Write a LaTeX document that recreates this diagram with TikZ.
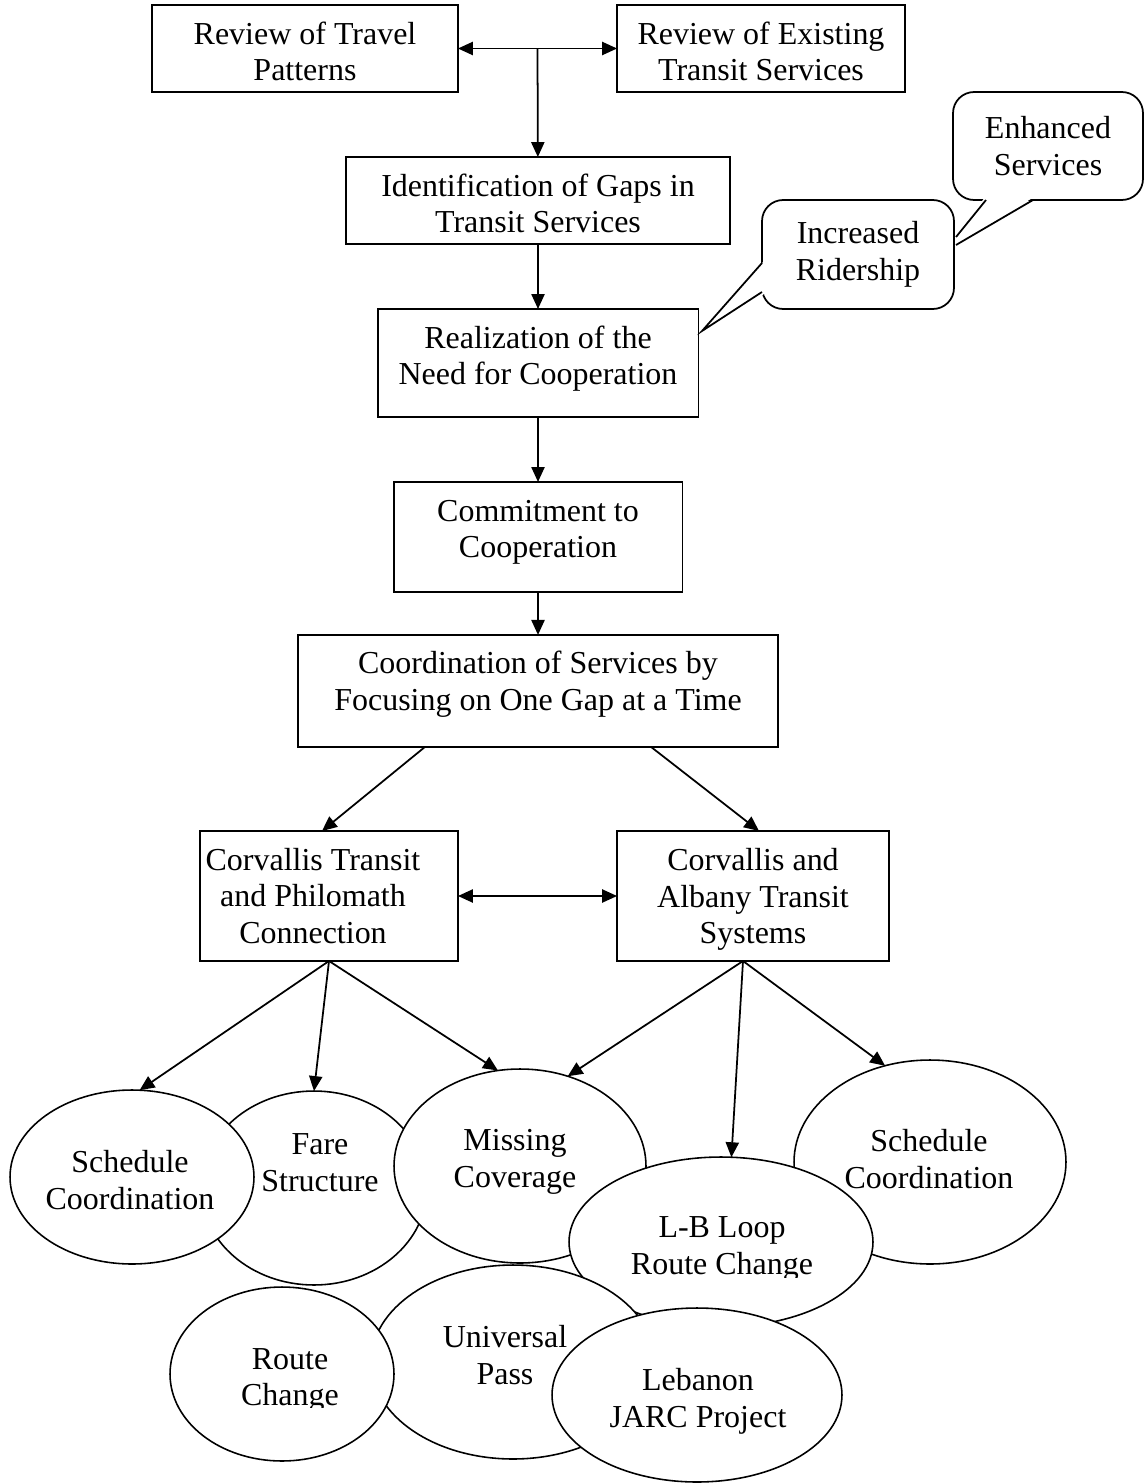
\documentclass[tikz,border=0pt]{standalone}
\usepackage{fontspec}
\setmainfont{Liberation Serif}
\usetikzlibrary{positioning,arrows.meta,calc,shapes.geometric}

\begin{document}
\begin{tikzpicture}[x=0.02cm,y=-0.02cm,>={Triangle[length=8.5pt,width=7.5pt]},
   node distance=1.3cm,
   every node/.style={font=\fontsize{18.2}{21}\selectfont,align=center,inner sep=0pt,outer sep=0pt},
   box/.style={draw,line width=1.1pt,fill=white,text height=43.2pt},
   oval/.style={draw,ellipse,line width=0.9pt,fill=white},
   bubble/.style={draw,line width=1pt,rounded corners=12pt,fill=white},
   link/.style={line width=1pt}]
  \useasboundingbox (0,0) rectangle (1144,1483);

  % top row
  \node[box,minimum width=6.12cm,minimum height=1.74cm,text depth=6.3pt] (travel) at (305,48.5) {Review of Travel\\Patterns};
  \node[box,minimum width=5.76cm,minimum height=1.74cm,text depth=6.3pt] (exist) at (761,48.5) {Review of Existing\\Transit Services};
  \coordinate (split) at ($(travel.east)!0.5!(exist.west)$);

  % main column
  \node[box,minimum width=7.68cm,minimum height=1.74cm,text depth=6.3pt] (gaps) at (538,200.5) {Identification of Gaps in\\Transit Services};
  \node[box,minimum width=6.42cm,minimum height=2.16cm,text depth=18.2pt] (need) [below=of gaps] {Realization of the\\Need for Cooperation};
  \node[box,minimum width=5.78cm,minimum height=2.2cm,text depth=19.3pt] (commit) [below=of need] {Commitment to\\Cooperation};
  \node[box,minimum width=9.62cm,minimum height=2.24cm,text depth=20.5pt] (focus) [below=0.86cm of commit] {Coordination of Services by\\Focusing on One Gap at a Time};

  % the two systems
  \node[box,minimum width=5.16cm,minimum height=2.6cm] (philo) at (329,896) {};
  \node (philo-t) at (313,896) {Corvallis Transit\\and Philomath\\Connection};
  \node[box,minimum width=5.44cm,minimum height=2.6cm,text height=64.3pt,text depth=9.7pt] (albany) at (753,896) {Corvallis and\\Albany Transit\\Systems};

  % callouts
  \node[bubble,minimum width=3.8cm,minimum height=2.16cm] (enh) at (1048,146) {Enhanced\\Services};
  \fill[white] (985,197) -- (956,237) -- (956,245) -- (1034,197) -- cycle;
  \draw[link] (986,200) -- (956,237) (956,245) -- (1033,200);
  \node[bubble,minimum width=3.84cm,minimum height=2.18cm] (rider) at (858,254.5) {Increased\\Ridership};
  \fill[white] (764,261) -- (702,331) -- (764,294) -- cycle;
  \draw[link] (762,263) -- (702,331) -- (762,292);

  % outcomes
  \node[oval,minimum width=4.52cm,minimum height=3.88cm] (fare) at (314,1188) {};
  \node (fare-t) at (320,1163) {Fare\\Structure};
  \node[oval,minimum width=4.88cm,minimum height=3.48cm] (sched1) at (132,1177) {};
  \node (sched1-t) at (130,1180) {Schedule\\Coordination};
  \node[oval,minimum width=5.04cm,minimum height=3.88cm] (missing) at (520,1166) {};
  \node (missing-t) at (515,1162) {Missing\\Coverage};
  \node[oval,minimum width=5.44cm,minimum height=4.08cm] (sched2) at (930,1162) {};
  \node (sched2-t) at (929,1159) {Schedule\\Coordination};
  \node[oval,minimum width=6.08cm,minimum height=3.4cm] (lbloop) at (721,1242) {};
  \begin{scope}
    \clip (600,1200) rectangle (850,1277);
    \node (lbloop-t) at (722,1249) {L-B Loop\\Route Change};
  \end{scope}
  \node[oval,minimum width=5.68cm,minimum height=3.88cm] (univ) at (513,1362) {};
  \node (univ-t) at (505,1355) {Universal\\Pass};
  \node[oval,minimum width=4.48cm,minimum height=3.48cm] (route) at (282,1374) {};
  \begin{scope}
    \clip (200,1320) rectangle (380,1407);
    \node (route-t) at (290,1380.5) {Route\\Change};
  \end{scope}
  \node[oval,minimum width=5.8cm,minimum height=3.48cm] (leb) at (697,1395) {};
  \node (leb-t) at (698,1401) {Lebanon\\JARC Project};

  % connectors
  \coordinate (focus-l) at ($(focus.south)+(-113,0)$);
  \coordinate (focus-r) at ($(focus.south)+(113,0)$);
  \coordinate (philo-in) at ($(philo.north)+(-7,0)$);
  \coordinate (albany-in) at ($(albany.north)+(6,0)$);
  \coordinate (albany-out) at ($(albany.south)+(-10,0)$);
  \path[->,link]
   (travel) edge[<->] (exist)
   (split) edge (gaps)
   (gaps) edge (need)
   (need) edge (commit)
   (commit) edge (focus)
   (focus-l) edge (philo-in)
   (focus-r) edge (albany-in)
   (philo) edge[<->] (albany)
   (philo.south) edge (sched1.85) edge (fare.north) edge (missing.103)
   (albany-out) edge (missing.62) edge (lbloop.83) edge (sched2.115);
\end{tikzpicture}
\end{document}
